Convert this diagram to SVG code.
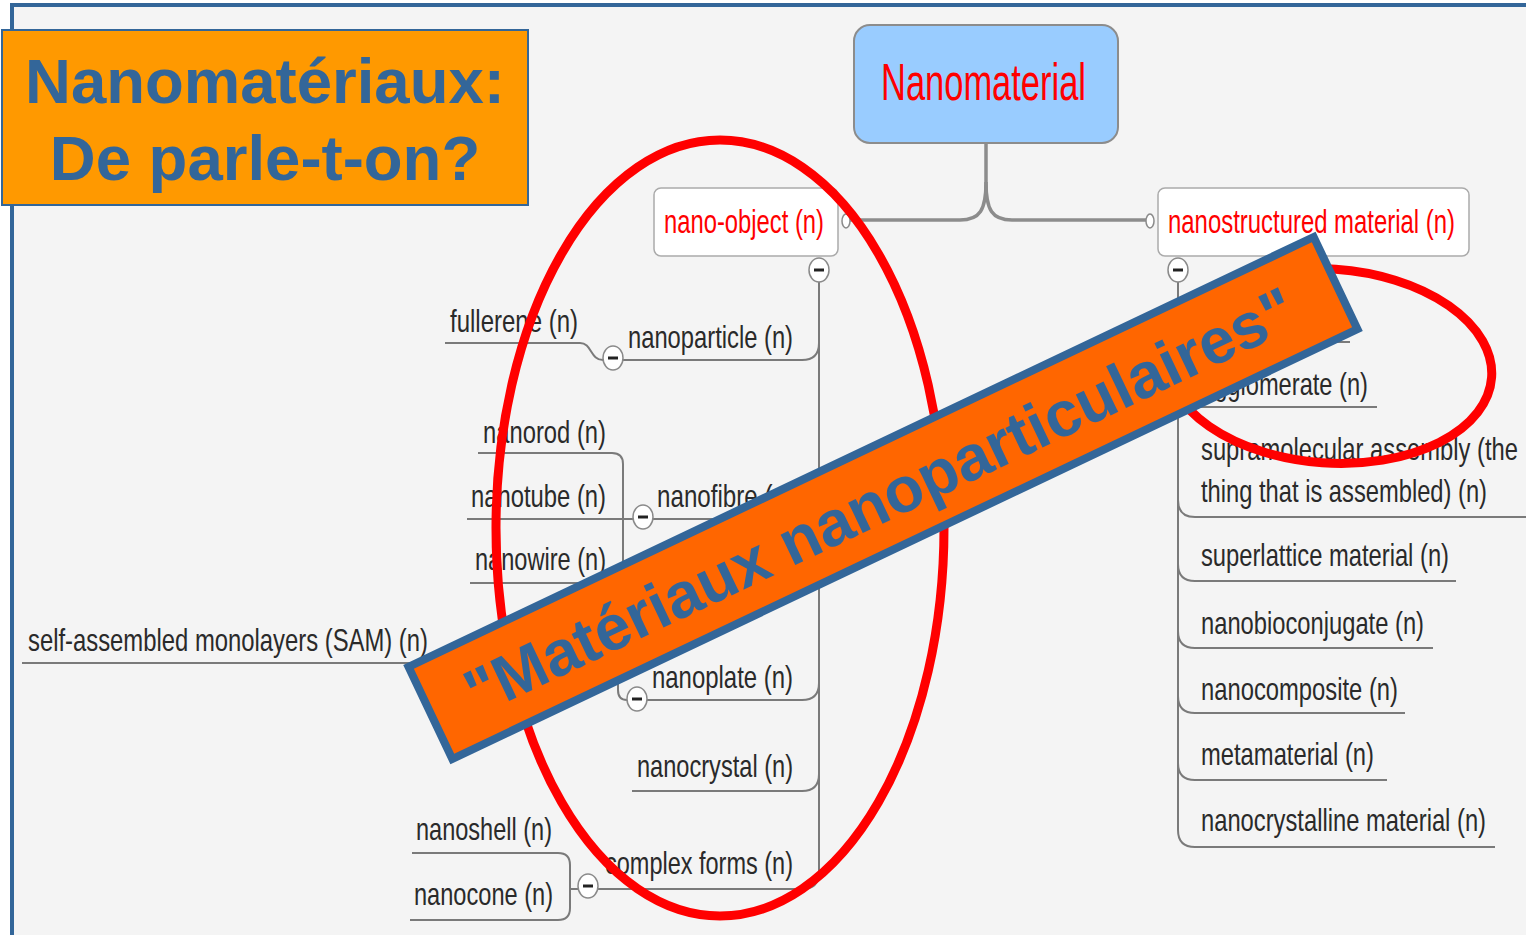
<svg xmlns="http://www.w3.org/2000/svg" width="1526" height="935" viewBox="0 0 1526 935">
<defs>
<style>
.ln{fill:none;stroke:#7a7a7a;stroke-width:2}
.trunk{fill:none;stroke:#8c8c8c;stroke-width:3.5}
.t{font-family:"Liberation Sans",Arial,sans-serif;font-size:32px;fill:#2a2a2a}
.rt{font-family:"Liberation Sans",Arial,sans-serif;fill:#ff0000}
.tog{fill:#ffffff;stroke:#8a8a8a;stroke-width:1.5}
.dash{stroke:#222222;stroke-width:3}
.port{fill:#ffffff;stroke:#8a8a8a;stroke-width:1.5}
.node{fill:#ffffff;stroke:#aaaaaa;stroke-width:1.5}
.big{font-family:"Liberation Sans",Arial,sans-serif;font-weight:bold;fill:#336699}
</style>
<g id="tg"><ellipse cx="0" cy="0" rx="10" ry="12" class="tog"/><line x1="-5" y1="0" x2="5" y2="0" class="dash"/></g>
</defs>
<rect x="0" y="0" width="1526" height="935" fill="#ffffff"/>
<rect x="12" y="5" width="1514" height="930" fill="#f4f4f4"/>
<g id="frame">
<line x1="12" y1="3" x2="12" y2="935" stroke="#336699" stroke-width="4"/>
<line x1="10" y1="5" x2="1526" y2="5" stroke="#336699" stroke-width="4"/>
</g>

<g id="connectors">
<path class="trunk" d="M986,143 V182 C986,210 980,220 960,220 H850"/>
<path class="trunk" d="M986,182 C986,210 992,220 1012,220 H1146"/>
<ellipse class="port" cx="846" cy="221" rx="4" ry="7"/>
<ellipse class="port" cx="1150" cy="221" rx="4" ry="7"/>
<path class="ln" d="M819,282 V872 Q819,889 802,889 H598"/>
<path class="ln" d="M623,360 H802 Q819,360 819,343"/>
<path class="ln" d="M653,519 H802 Q819,519 819,502"/>
<path class="ln" d="M647,700 H802 Q819,700 819,683"/>
<path class="ln" d="M632,791 H802 Q819,791 819,774"/>
<path class="ln" d="M445,343 H580 C592,343 590,360 603,360"/>
<path class="ln" d="M478,453 H612 Q623,453 623,464 V572 Q623,583 612,583 H470"/>
<path class="ln" d="M467,519 H633"/>
<path class="ln" d="M22,663 H604 Q618,663 618,677 V690 Q618,700 627,700"/>
<path class="ln" d="M412,853 H558 Q570,853 570,865 V908 Q570,920 558,920 H410"/>
<path class="ln" d="M570,889 H578"/>
<path class="ln" d="M1178,282 V830 Q1178,847 1195,847 H1495"/>
<path class="ln" d="M1178,325 Q1178,342 1195,342 H1350"/>
<path class="ln" d="M1178,390 Q1178,407 1195,407 H1377"/>
<path class="ln" d="M1178,500 Q1178,517 1195,517 H1526"/>
<path class="ln" d="M1178,564 Q1178,581 1195,581 H1456"/>
<path class="ln" d="M1178,631 Q1178,648 1195,648 H1433"/>
<path class="ln" d="M1178,696 Q1178,713 1195,713 H1405"/>
<path class="ln" d="M1178,763 Q1178,780 1195,780 H1387"/>
<use href="#tg" x="819" y="270"/>
<use href="#tg" x="1178" y="270"/>
<use href="#tg" x="613" y="358"/>
<use href="#tg" x="643" y="517"/>
<use href="#tg" x="637" y="699"/>
<use href="#tg" x="588" y="886"/>
</g>

<g id="n-nanomaterial">
<rect x="854" y="25" width="264" height="118" rx="16" fill="#99ccff" stroke="#8c8c8c" stroke-width="2"/>
<text class="rt" x="881" y="100" font-size="52" textLength="205" lengthAdjust="spacingAndGlyphs">Nanomaterial</text>
</g>
<g id="n-nano-object">
<rect class="node" x="654" y="188" width="184" height="68" rx="7"/>
<text class="rt" x="664" y="233" font-size="34" textLength="160" lengthAdjust="spacingAndGlyphs">nano-object (n)</text>
</g>
<g id="n-nanostructured">
<rect class="node" x="1158" y="188" width="311" height="68" rx="7"/>
<text class="rt" x="1168" y="233" font-size="34" textLength="287" lengthAdjust="spacingAndGlyphs">nanostructured material (n)</text>
</g>

<g id="n-fullerene"><text class="t" x="450" y="332" textLength="128" lengthAdjust="spacingAndGlyphs">fullerene (n)</text></g>
<g id="n-nanoparticle"><text class="t" x="628" y="348" textLength="165" lengthAdjust="spacingAndGlyphs">nanoparticle (n)</text></g>
<g id="n-nanorod"><text class="t" x="483" y="443" textLength="123" lengthAdjust="spacingAndGlyphs">nanorod (n)</text></g>
<g id="n-nanotube"><text class="t" x="471" y="507" textLength="135" lengthAdjust="spacingAndGlyphs">nanotube (n)</text></g>
<g id="n-nanofibre"><text class="t" x="657" y="507" textLength="137" lengthAdjust="spacingAndGlyphs">nanofibre (n)</text></g>
<g id="n-nanowire"><text class="t" x="475" y="570" textLength="131" lengthAdjust="spacingAndGlyphs">nanowire (n)</text></g>
<g id="n-sam"><text class="t" x="28" y="651" textLength="400" lengthAdjust="spacingAndGlyphs">self-assembled monolayers (SAM) (n)</text></g>
<g id="n-nanoplate"><text class="t" x="652" y="688" textLength="141" lengthAdjust="spacingAndGlyphs">nanoplate (n)</text></g>
<g id="n-nanocrystal"><text class="t" x="637" y="777" textLength="156" lengthAdjust="spacingAndGlyphs">nanocrystal (n)</text></g>
<g id="n-complex"><text class="t" x="605" y="874" textLength="188" lengthAdjust="spacingAndGlyphs">complex forms (n)</text></g>
<g id="n-nanoshell"><text class="t" x="416" y="840" textLength="136" lengthAdjust="spacingAndGlyphs">nanoshell (n)</text></g>
<g id="n-nanocone"><text class="t" x="414" y="905" textLength="139" lengthAdjust="spacingAndGlyphs">nanocone (n)</text></g>

<g id="n-agglomerate"><text class="t" x="1201" y="395" textLength="167" lengthAdjust="spacingAndGlyphs">agglomerate (n)</text></g>
<g id="n-supramolecular">
<text class="t" x="1201" y="460" textLength="317" lengthAdjust="spacingAndGlyphs">supramolecular assembly (the</text>
<text class="t" x="1201" y="502" textLength="286" lengthAdjust="spacingAndGlyphs">thing that is assembled) (n)</text>
</g>
<g id="n-superlattice"><text class="t" x="1201" y="566" textLength="248" lengthAdjust="spacingAndGlyphs">superlattice material (n)</text></g>
<g id="n-nanobioconjugate"><text class="t" x="1201" y="634" textLength="223" lengthAdjust="spacingAndGlyphs">nanobioconjugate (n)</text></g>
<g id="n-nanocomposite"><text class="t" x="1201" y="700" textLength="197" lengthAdjust="spacingAndGlyphs">nanocomposite (n)</text></g>
<g id="n-metamaterial"><text class="t" x="1201" y="765" textLength="173" lengthAdjust="spacingAndGlyphs">metamaterial (n)</text></g>
<g id="n-nanocrystalline"><text class="t" x="1201" y="831" textLength="285" lengthAdjust="spacingAndGlyphs">nanocrystalline material (n)</text></g>

<g id="title">
<rect x="2" y="30" width="526" height="175" fill="#ff9900" stroke="#336699" stroke-width="2"/>
<text class="big" x="265" y="103" font-size="63.5" text-anchor="middle">Nanomatériaux:</text>
<text class="big" x="265" y="180" font-size="63.5" text-anchor="middle">De parle-t-on?</text>
</g>

<g id="highlights" fill="none" stroke="#ff0000" stroke-width="9">
<ellipse cx="720" cy="528" rx="224" ry="388"/>
<ellipse cx="1329" cy="366" rx="163" ry="97" transform="rotate(4 1329 366)"/>
</g>

<g id="banner" transform="translate(883 498) rotate(-25.4)">
<rect x="-501" y="-51" width="1002" height="102" fill="#ff6600" stroke="#336699" stroke-width="8"/>
<text class="big" x="-4" y="23" font-size="64" text-anchor="middle">"Matériaux nanoparticulaires"</text>
</g>
</svg>
